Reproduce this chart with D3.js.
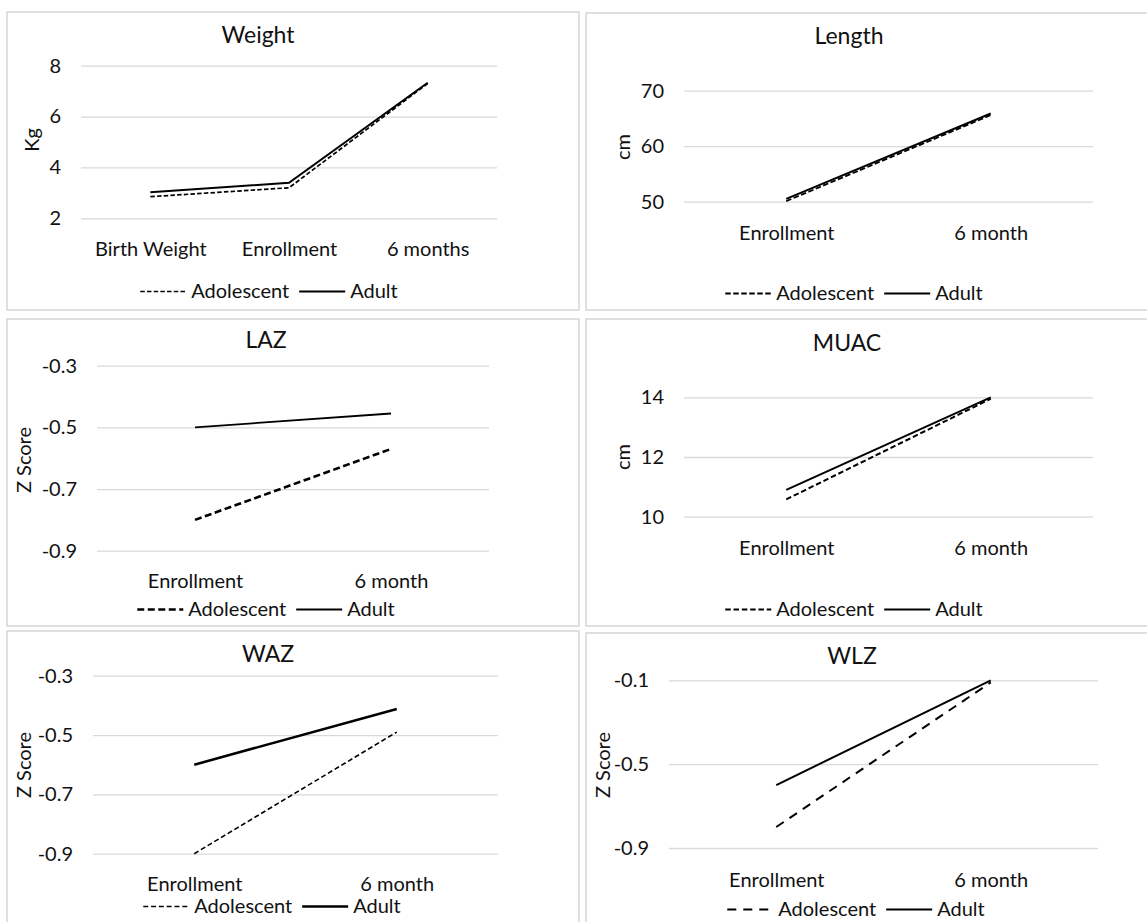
<!DOCTYPE html>
<html>
<head>
<meta charset="utf-8">
<script src="https://cdn.jsdelivr.net/npm/d3@7"></script>
<style>
  html, body { margin: 0; padding: 0; background: #fff; }
  svg { display: block; font-family: Lato, "Open Sans", sans-serif; }
</style>
</head>
<body>
<svg id="chart" width="1147" height="922"></svg>
<script>
// categories
const weightCats = ["Birth Weight", "Enrollment", "6 months"];
const visitCats = ["Enrollment", "6 month"];
const seriesNames = ["Adolescent", "Adult"];

// series values
const weightAdolescent = [2.85, 3.2, 7.3];
const weightAdult = [3.02, 3.4, 7.33];
const lengthAdolescent = [50.1, 65.6];
const lengthAdult = [50.5, 65.9];
const lazAdolescent = [-0.80, -0.57];
const lazAdult = [-0.50, -0.455];
const muacAdolescent = [10.58, 13.95];
const muacAdult = [10.9, 14.0];
const wazAdolescent = [-0.90, -0.49];
const wazAdult = [-0.60, -0.412];
const wlzAdolescent = [-0.80, -0.11];
const wlzAdult = [-0.60, -0.10];

// tick labels
const weightTicks = [2, 4, 6, 8];
const lengthTicks = [50, 60, 70];
const zTicks = [-0.9, -0.7, -0.5, -0.3];
const muacTicks = [10, 12, 14];
const wlzTicks = [-0.9, -0.5, -0.1];

const textColor = "#111";
const gridColor = "#d9d9d9";
const frameColor = "#d6d6d6";

// layout of each panel (frame, plot area, text positions)
const panels = [
  { title: "Weight", unit: "Kg", cats: weightCats, ticks: weightTicks,
    series: [weightAdolescent, weightAdult],
    frame: [7, 12, 572, 298], px: [81, 497], py: [218.3, 65.7],
    titleX: 258, titleY: 43, catY: 256, unitX: 32, unitY: 140, legX: 269, legY: 298,
    dash: { dasharray: "4.5,2.2", width: 1.7 }, solidW: 2 },
  { title: "Length", unit: "cm", cats: visitCats, ticks: lengthTicks,
    series: [lengthAdolescent, lengthAdult],
    frame: [586, 13, 570, 297], px: [684, 1093], py: [201.7, 90.7],
    titleX: 849, titleY: 44, catY: 240, unitX: 623, unitY: 147, legX: 854, legY: 300,
    dash: { dasharray: "5.5,2.5", width: 1.8 }, solidW: 2 },
  { title: "LAZ", unit: "Z Score", cats: visitCats, ticks: zTicks,
    series: [lazAdolescent, lazAdult],
    frame: [7, 319, 572, 307], px: [97, 489], py: [550.7, 365.7],
    titleX: 266, titleY: 348, catY: 588, unitX: 24, unitY: 460, legX: 266, legY: 616,
    dash: { dasharray: "7,3.5", width: 2.6 }, solidW: 1.8 },
  { title: "MUAC", unit: "cm", cats: visitCats, ticks: muacTicks,
    series: [muacAdolescent, muacAdult],
    frame: [586, 319, 570, 307], px: [684, 1093], py: [516.7, 397.3],
    titleX: 847, titleY: 351, catY: 555, unitX: 623, unitY: 457, legX: 854, legY: 616,
    dash: { dasharray: "5.5,2.8", width: 2 }, solidW: 2 },
  { title: "WAZ", unit: "Z Score", cats: visitCats, ticks: zTicks,
    series: [wazAdolescent, wazAdult],
    frame: [7, 631, 572, 300], px: [93, 498], py: [853.7, 675.7],
    titleX: 268, titleY: 662, catY: 891, unitX: 24, unitY: 765, legX: 272, legY: 913,
    dash: { dasharray: "5,2.8", width: 1.6 }, solidW: 2.6 },
  { title: "WLZ", unit: "Z Score", cats: visitCats, ticks: wlzTicks,
    series: [wlzAdolescent, wlzAdult],
    frame: [586, 633, 570, 300], px: [669, 1098], py: [848, 680.3],
    titleX: 852, titleY: 664, catY: 887, unitX: 603, unitY: 765, legX: 856, legY: 916,
    dash: { dasharray: "9,7", width: 2 }, solidW: 2 }
];

const svg = d3.select("#chart");

panels.forEach(p => {
  const g = svg.append("g");

  g.append("rect")
    .attr("x", p.frame[0]).attr("y", p.frame[1])
    .attr("width", p.frame[2]).attr("height", p.frame[3])
    .attr("fill", "#fff")
    .attr("stroke", frameColor)
    .attr("stroke-width", 1.5);

  const x = d3.scalePoint()
    .domain(p.cats)
    .range(p.px)
    .padding(0.5);

  const y = d3.scaleLinear()
    .domain([p.ticks[0], p.ticks[p.ticks.length - 1]])
    .range(p.py);

  // gridlines + y tick labels
  const yAxis = g.append("g")
    .attr("transform", `translate(${p.px[0]},0)`)
    .call(d3.axisLeft(y)
      .tickValues(p.ticks)
      .tickSize(-(p.px[1] - p.px[0]))
      .tickPadding(20)
      .tickFormat(d => String(d)));
  yAxis.select(".domain").remove();
  yAxis.selectAll("line").attr("stroke", gridColor).attr("stroke-width", 1.3);
  yAxis.selectAll("text")
    .attr("fill", textColor)
    .style("font-size", "20px")
    .style("font-family", "Lato, sans-serif");

  // category labels
  const xAxis = g.append("g")
    .attr("transform", `translate(0,${p.catY - 14})`)
    .call(d3.axisBottom(x).tickSize(0).tickPadding(0));
  xAxis.select(".domain").remove();
  xAxis.selectAll("text")
    .attr("fill", textColor)
    .attr("dy", "0.71em")
    .style("font-size", "20px")
    .style("font-family", "Lato, sans-serif");

  // title
  g.append("text")
    .attr("x", p.titleX).attr("y", p.titleY)
    .attr("text-anchor", "middle")
    .attr("fill", textColor)
    .style("font-size", "23px")
    .text(p.title);

  // y axis title
  g.append("text")
    .attr("transform", `translate(${p.unitX},${p.unitY}) rotate(-90)`)
    .attr("text-anchor", "middle")
    .attr("dy", "0.35em")
    .attr("fill", textColor)
    .style("font-size", "20px")
    .text(p.unit);

  // lines
  const line = d3.line()
    .x((d, i) => x(p.cats[i]))
    .y(d => y(d));

  g.append("path")
    .datum(p.series[0])
    .attr("d", line)
    .attr("fill", "none")
    .attr("stroke", "#000")
    .attr("stroke-width", p.dash.width)
    .attr("stroke-dasharray", p.dash.dasharray);

  g.append("path")
    .datum(p.series[1])
    .attr("d", line)
    .attr("fill", "none")
    .attr("stroke", "#000")
    .attr("stroke-width", p.solidW);

  // legend
  const leg = g.append("g");
  const sampleW = 46;
  const t1 = leg.append("text")
    .attr("y", p.legY)
    .attr("fill", textColor)
    .style("font-size", "20px")
    .text(seriesNames[0]);
  const t2 = leg.append("text")
    .attr("y", p.legY)
    .attr("fill", textColor)
    .style("font-size", "20px")
    .text(seriesNames[1]);
  const w1 = t1.node().getComputedTextLength();
  const w2 = t2.node().getComputedTextLength();
  const total = sampleW + 5 + w1 + 10 + sampleW + 5 + w2;
  let cx = p.legX - total / 2;
  const ly = p.legY - 6.5;

  leg.append("line")
    .attr("x1", cx).attr("x2", cx + sampleW)
    .attr("y1", ly).attr("y2", ly)
    .attr("stroke", "#000")
    .attr("stroke-width", p.dash.width)
    .attr("stroke-dasharray", p.dash.dasharray);
  cx += sampleW + 5;
  t1.attr("x", cx);
  cx += w1 + 10;
  leg.append("line")
    .attr("x1", cx).attr("x2", cx + sampleW)
    .attr("y1", ly).attr("y2", ly)
    .attr("stroke", "#000")
    .attr("stroke-width", p.solidW);
  cx += sampleW + 5;
  t2.attr("x", cx);
});
</script>
</body>
</html>
